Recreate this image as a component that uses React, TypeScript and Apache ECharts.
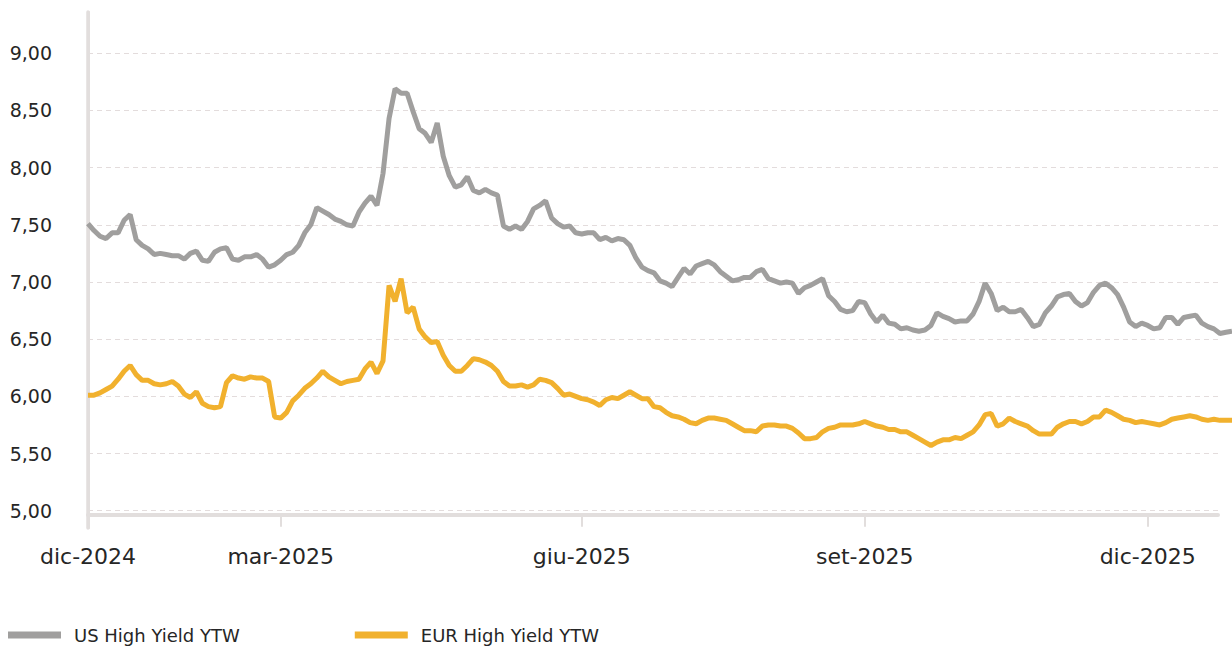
import React, { useEffect, useRef } from 'react';
import * as echarts from 'echarts';

// US High Yield YTW (%), sampled evenly along the time axis
const usHY: number[] = [
  7.51, 7.45, 7.40, 7.38, 7.43, 7.43, 7.54, 7.59, 7.37, 7.32,
  7.29, 7.24, 7.25, 7.24, 7.23, 7.23, 7.20, 7.25, 7.27, 7.19,
  7.18, 7.26, 7.29, 7.30, 7.20, 7.19, 7.22, 7.22, 7.24, 7.20,
  7.13, 7.15, 7.19, 7.24, 7.26, 7.32, 7.43, 7.50, 7.65, 7.62,
  7.59, 7.55, 7.53, 7.50, 7.49, 7.61, 7.69, 7.75, 7.67, 7.95,
  8.43, 8.69, 8.65, 8.65, 8.49, 8.34, 8.30, 8.22, 8.39, 8.10,
  7.93, 7.83, 7.85, 7.92, 7.80, 7.78, 7.81, 7.78, 7.76, 7.49,
  7.46, 7.49, 7.46, 7.53, 7.64, 7.67, 7.71, 7.56, 7.51, 7.48,
  7.49, 7.43, 7.42, 7.43, 7.43, 7.37, 7.39, 7.36, 7.38, 7.37,
  7.32, 7.21, 7.13, 7.10, 7.08, 7.01, 6.99, 6.96, 7.04, 7.12,
  7.07, 7.14, 7.16, 7.18, 7.15, 7.09, 7.05, 7.01, 7.02, 7.04,
  7.04, 7.09, 7.11, 7.03, 7.01, 6.99, 7.00, 6.99, 6.90, 6.95,
  6.97, 7.00, 7.03, 6.88, 6.83, 6.76, 6.74, 6.75, 6.83, 6.82,
  6.72, 6.65, 6.71, 6.64, 6.63, 6.59, 6.60, 6.58, 6.57, 6.58,
  6.62, 6.73, 6.70, 6.68, 6.65, 6.66, 6.66, 6.72, 6.83, 6.99,
  6.90, 6.75, 6.78, 6.74, 6.74, 6.76, 6.69, 6.61, 6.63, 6.73,
  6.79, 6.87, 6.89, 6.90, 6.83, 6.79, 6.82, 6.91, 6.97, 6.99,
  6.95, 6.89, 6.78, 6.65, 6.61, 6.64, 6.62, 6.59, 6.60, 6.69,
  6.69, 6.63, 6.69, 6.70, 6.71, 6.64, 6.61, 6.59, 6.55, 6.56,
  6.57,
];

// EUR High Yield YTW (%)
const eurHY: number[] = [
  6.01, 6.01, 6.03, 6.06, 6.09, 6.15, 6.22, 6.27, 6.19, 6.14,
  6.14, 6.11, 6.10, 6.11, 6.13, 6.09, 6.02, 5.99, 6.04, 5.94,
  5.91, 5.90, 5.91, 6.12, 6.18, 6.16, 6.15, 6.17, 6.16, 6.16,
  6.13, 5.82, 5.81, 5.86, 5.96, 6.01, 6.07, 6.11, 6.16, 6.22,
  6.17, 6.14, 6.11, 6.13, 6.14, 6.15, 6.24, 6.30, 6.20, 6.31,
  6.97, 6.83, 7.03, 6.73, 6.78, 6.59, 6.52, 6.47, 6.48, 6.36,
  6.27, 6.22, 6.22, 6.27, 6.33, 6.32, 6.30, 6.27, 6.22, 6.13,
  6.09, 6.09, 6.10, 6.08, 6.10, 6.15, 6.14, 6.12, 6.07, 6.01,
  6.02, 6.00, 5.98, 5.97, 5.95, 5.92, 5.97, 5.99, 5.98, 6.01,
  6.04, 6.01, 5.98, 5.98, 5.91, 5.90, 5.86, 5.83, 5.82, 5.80,
  5.77, 5.76, 5.79, 5.81, 5.81, 5.80, 5.79, 5.76, 5.73, 5.70,
  5.70, 5.69, 5.74, 5.75, 5.75, 5.74, 5.74, 5.72, 5.68, 5.63,
  5.63, 5.64, 5.69, 5.72, 5.73, 5.75, 5.75, 5.75, 5.76, 5.78,
  5.76, 5.74, 5.73, 5.71, 5.71, 5.69, 5.69, 5.66, 5.63, 5.60,
  5.57, 5.60, 5.62, 5.62, 5.64, 5.63, 5.66, 5.69, 5.75, 5.84,
  5.85, 5.74, 5.76, 5.81, 5.78, 5.76, 5.74, 5.70, 5.67, 5.67,
  5.67, 5.73, 5.76, 5.78, 5.78, 5.76, 5.78, 5.82, 5.82, 5.88,
  5.86, 5.83, 5.80, 5.79, 5.77, 5.78, 5.77, 5.76, 5.75, 5.77,
  5.80, 5.81, 5.82, 5.83, 5.82, 5.80, 5.79, 5.80, 5.79, 5.79,
  5.79,
];

const seriesNames = ['US High Yield YTW', 'EUR High Yield YTW'];
const tickLabels = ['dic-2024', 'mar-2025', 'giu-2025', 'set-2025', 'dic-2025'];
const tickIndex = [0, 32, 82, 129, 176];
const yMin = 5;
const yMax = 9;
const yStep = 0.5;

const FONT = 'DejaVu Sans';
const AXIS_COLOR = '#e2dedd';
const TEXT_COLOR = '#262626';

export default function App() {
  const ref = useRef<HTMLDivElement>(null);

  useEffect(() => {
    if (!ref.current) return;
    const chart = echarts.init(ref.current, null, { renderer: 'svg' });
    const categories = usHY.map((_, i) => {
      const k = tickIndex.indexOf(i);
      return k >= 0 ? tickLabels[k] : String(i);
    });
    const showTick = (i: number) => tickIndex.includes(i);

    chart.setOption({
      animation: false,
      textStyle: { fontFamily: FONT },
      grid: [
        { left: 88, top: 53.3, width: 1130, height: 457.4 },
        { left: 88, top: 53.3, width: 1144, height: 457.4 },
        { left: 88, top: 12, width: 10, height: 516 },
      ],
      legend: {
        data: seriesNames,
        left: 8,
        top: 626,
        padding: 0,
        icon: 'rect',
        itemWidth: 53,
        itemHeight: 7,
        itemGap: 115,
        textStyle: {
          fontFamily: FONT,
          fontSize: 18,
          color: TEXT_COLOR,
          padding: [6, 0, 0, 8],
        },
      },
      xAxis: [
        {
          gridIndex: 0,
          type: 'value',
          min: 0,
          max: 1,
          offset: 4,
          axisLine: { show: true, lineStyle: { color: AXIS_COLOR, width: 4 } },
          axisTick: { show: false },
          axisLabel: { show: false },
          splitLine: { show: false },
        },
        {
          gridIndex: 1,
          type: 'category',
          data: categories,
          boundaryGap: false,
          offset: 4,
          axisLine: { show: false },
          axisTick: {
            show: true,
            interval: (i: number) => showTick(i),
            length: 12,
            lineStyle: { color: AXIS_COLOR, width: 2 },
          },
          axisLabel: {
            interval: (i: number) => showTick(i),
            margin: 31,
            fontSize: 22,
            fontFamily: FONT,
            color: TEXT_COLOR,
          },
          splitLine: { show: false },
        },
        { gridIndex: 2, type: 'value', show: false },
      ],
      yAxis: [
        {
          gridIndex: 0,
          type: 'value',
          min: yMin,
          max: yMax,
          interval: yStep,
          axisLine: { show: false },
          axisTick: { show: false },
          axisLabel: {
            margin: 36,
            fontSize: 19,
            fontFamily: FONT,
            color: TEXT_COLOR,
            formatter: (v: number) => v.toFixed(2).replace('.', ','),
          },
          splitLine: { show: true, lineStyle: { color: '#e3dcdc', type: [5, 4], width: 1 } },
        },
        {
          gridIndex: 1,
          type: 'value',
          min: yMin,
          max: yMax,
          interval: yStep,
          show: false,
        },
        {
          gridIndex: 2,
          type: 'value',
          position: 'left',
          offset: 4,
          axisLine: { show: true, lineStyle: { color: AXIS_COLOR, width: 3.5 } },
          axisTick: { show: false },
          axisLabel: { show: false },
          splitLine: { show: false },
        },
        {
          gridIndex: 2,
          type: 'value',
          position: 'left',
          offset: -0.5,
          axisLine: { show: true, lineStyle: { color: AXIS_COLOR, width: 2 } },
          axisTick: { show: false },
          axisLabel: { show: false },
          splitLine: { show: false },
        },
      ],
      series: [
        {
          name: seriesNames[0],
          type: 'line',
          xAxisIndex: 1,
          yAxisIndex: 1,
          data: usHY,
          showSymbol: false,
          symbol: 'none',
          lineStyle: { color: '#a09f9e', width: 5 },
          itemStyle: { color: '#a09f9e' },
        },
        {
          name: seriesNames[1],
          type: 'line',
          xAxisIndex: 1,
          yAxisIndex: 1,
          data: eurHY,
          showSymbol: false,
          symbol: 'none',
          lineStyle: { color: '#f1b12e', width: 5 },
          itemStyle: { color: '#f1b12e' },
        },
      ],
    });

    return () => chart.dispose();
  }, []);

  return (
    <div
      ref={ref}
      style={{ position: 'absolute', left: 0, top: 0, width: 1232, height: 649 }}
    />
  );
}
